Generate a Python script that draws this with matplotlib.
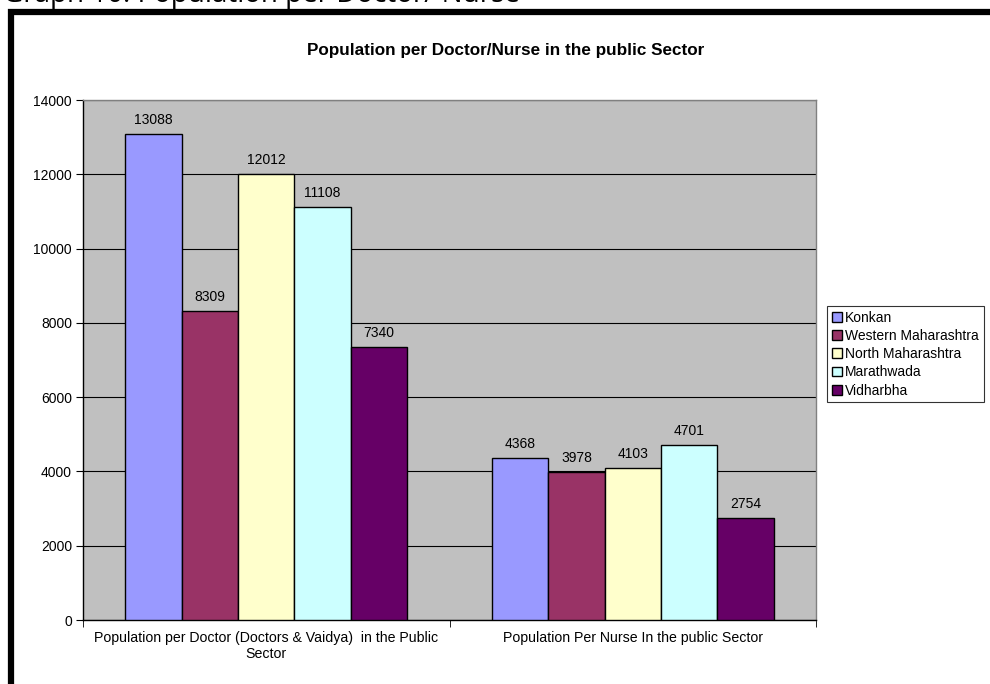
import matplotlib as mpl
mpl.use('Agg')

import matplotlib.pyplot as plt
from matplotlib.patches import Rectangle
import numpy as np

plt.rcParams['font.family'] = ['Liberation Sans', 'DejaVu Sans']

categories = ['Population per Doctor (Doctors & Vaidya)  in the Public\nSector',
              'Population Per Nurse In the public Sector']
regions = ['Konkan', 'Western Maharashtra', 'North Maharashtra', 'Marathwada', 'Vidharbha']
colors = ['#9999FF', '#993366', '#FFFFCC', '#CCFFFF', '#660066']
konkan = [13088, 4368]
western = [8309, 3978]
north = [12012, 4103]
marathwada = [11108, 4701]
vidharbha = [7340, 2754]
series = [konkan, western, north, marathwada, vidharbha]

fig = plt.figure(figsize=(9.9, 6.84), dpi=100)
ax = fig.add_axes([83/990, 1-620/684, 733/990, 520/684])
ax.set_facecolor('#C0C0C0')

# frame around the chart, cut off on the right and bottom
fig.patches.append(Rectangle((11/990, -0.1), 1.2, 1-12/684+0.1, transform=fig.transFigure,
                             fill=False, edgecolor='black', linewidth=4.5, zorder=0))
fig.text(3/990, 1-2/684, 'Graph 10: Population per Doctor/ Nurse', fontsize=20,
         family='Open Sans', va='baseline', ha='left')

x = np.arange(len(categories))
w = 1/6.5
handles = []
for i, (name, vals, c) in enumerate(zip(regions, series, colors)):
    pos = x + (i - 2) * w
    b = ax.bar(pos, vals, w, color=c, edgecolor='black', linewidth=1.0, label=name, zorder=3)
    handles.append(b)
    for px, v in zip(pos, vals):
        ax.annotate(str(v), (px, v), xytext=(0, 5), textcoords='offset points',
                    ha='center', va='bottom', fontsize=10)

ax.set_xlim(-0.5, 1.5)
ax.set_ylim(0, 14000)
ax.set_yticks(np.arange(0, 14001, 2000))
ax.yaxis.grid(True, color='black', linewidth=0.8, zorder=1)
ax.set_axisbelow(True)
ax.tick_params(axis='y', direction='out', length=5, pad=3, labelsize=10)
ax.set_xticks(x)
ax.set_xticklabels(categories, fontsize=10.2, linespacing=1.15)
ax.tick_params(axis='x', which='major', length=0, pad=8)
ax.set_xticks([-0.5, 0.5, 1.5], minor=True)
ax.tick_params(axis='x', which='minor', direction='out', length=5)

for s in ['left', 'bottom']:
    ax.spines[s].set_color('black')
    ax.spines[s].set_linewidth(1.0)
for s in ['top', 'right']:
    ax.spines[s].set_color('#808080')
    ax.spines[s].set_linewidth(1.0)

fig.text(506/990, 1-50/684, 'Population per Doctor/Nurse in the public Sector',
         fontsize=12.3, fontweight='bold', ha='center', va='center')

leg = fig.legend(handles=handles, loc='upper left', bbox_to_anchor=(827/990, 1-306/684),
                 bbox_transform=fig.transFigure, fontsize=10, frameon=True, fancybox=False,
                 handlelength=0.7, handleheight=0.7, handletextpad=0.25, borderpad=0.35,
                 labelspacing=0.3, borderaxespad=0)
leg.get_frame().set_edgecolor('black')
leg.get_frame().set_linewidth(0.8)

fig.savefig('out.png', dpi=100)
